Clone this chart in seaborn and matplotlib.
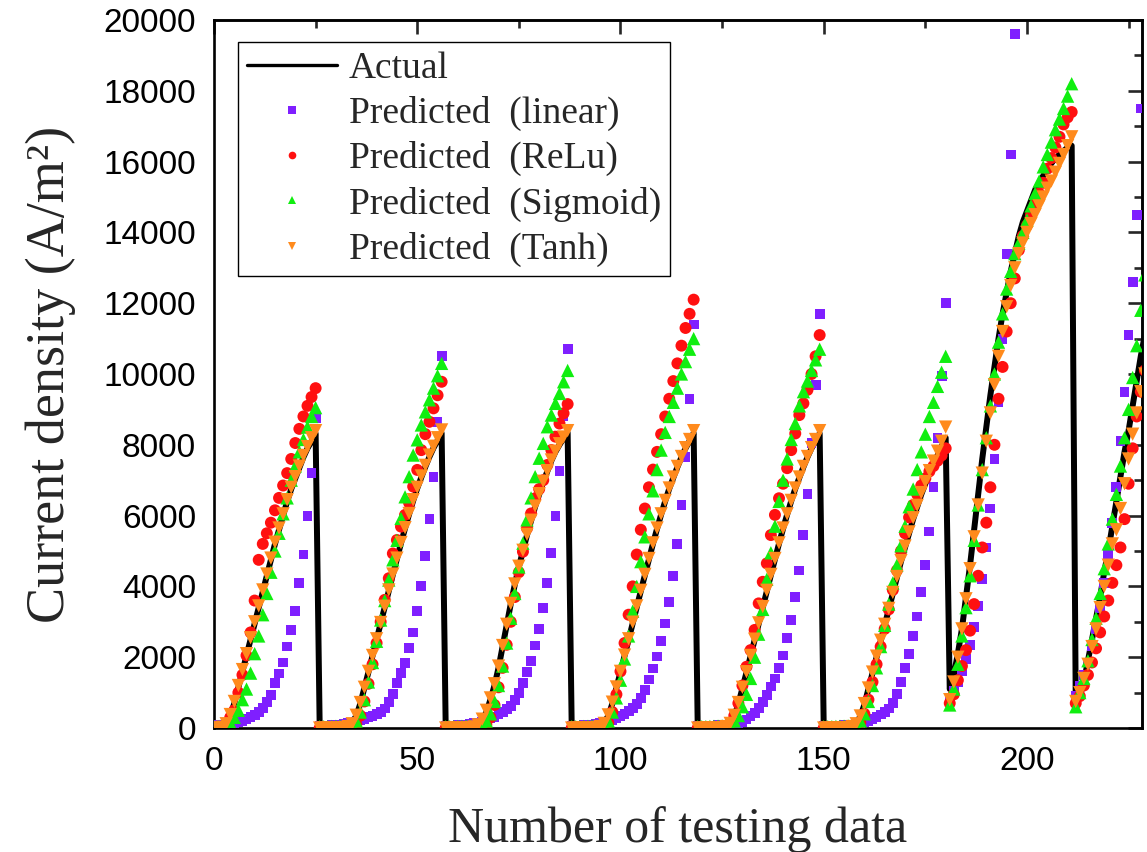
import numpy as np
import pandas as pd
import matplotlib
matplotlib.use("Agg")
import matplotlib.pyplot as plt
from matplotlib.lines import Line2D
from matplotlib.ticker import MultipleLocator
import seaborn as sns

nan = np.nan

# Current density (A/m^2) for each test sample; one row per ramp
actual = [
    50, 55, 60, 150, 330, 700, 1150, 1600, 2050, 2500, 2950, 3400, 3850, 4300, 4750, 5200, 5600, 6000, 6400, 6750, 7050, 7350, 7650, 7900, 8100, 8320,
    30, 30, 35, 40, 45, 55, 70, 100, 170, 340, 690, 1130, 1580, 2040, 2500, 2960, 3420, 3880, 4330, 4780, 5220, 5640, 6040, 6420, 6770, 7080, 7380, 7660, 7910, 8120, 8330,
    30, 30, 35, 35, 45, 55, 70, 100, 150, 200, 450, 800, 1200, 1700, 2300, 2900, 3500, 4050, 4550, 5000, 5450, 5850, 6250, 6600, 6950, 7250, 7550, 7800, 8000, 8180, 8340,
    30, 30, 35, 40, 45, 55, 70, 100, 170, 340, 690, 1130, 1580, 2040, 2500, 2960, 3420, 3870, 4320, 4770, 5210, 5630, 6030, 6410, 6760, 7070, 7370, 7650, 7900, 8110, 8330,
    30, 30, 35, 40, 45, 55, 70, 100, 170, 330, 680, 1120, 1570, 2030, 2490, 2950, 3410, 3870, 4320, 4770, 5210, 5630, 6030, 6410, 6760, 7070, 7370, 7650, 7900, 8110, 8320,
    30, 30, 35, 40, 45, 55, 70, 100, 160, 320, 660, 1100, 1550, 2000, 2450, 2900, 3350, 3800, 4250, 4700, 5100, 5500, 5900, 6250, 6600, 6900, 7200, 7450, 7700, 7950, 8200,
    1100, 1500, 2100, 2800, 3700, 4600, 5600, 6600, 7600, 8500, 9400, 10200, 11000, 11700, 12300, 12900, 13400, 13900, 14300, 14600, 14900, 15200, 15400, 15600, 15800, 15950, 16100, 16200, 16300, 16400, 16450,
    700, 900, 1300, 1900, 2500, 3100, 3700, 4400, 5000, 5700, 6400, 7100, 7800, 8400, 9100, 9800, 10500, 11100,
]

pred_linear = [
    80, 90, 100, 110, 130, 150, 170, 200, 250, 300, 370, 450, 560, 740, 930, 1260, 1540, 1850, 2300, 2770, 3300, 4100, 4900, 6000, 7200, 8750,
    60, 65, 70, 80, 90, 100, 115, 130, 150, 180, 210, 250, 300, 350, 400, 450, 550, 740, 970, 1260, 1550, 1830, 2250, 2700, 3300, 4000, 4850, 5900, 7100, 8650, 10500,
    60, 65, 70, 80, 90, 100, 115, 130, 150, 180, 220, 270, 320, 380, 450, 530, 620, 780, 1000, 1280, 1580, 1900, 2330, 2800, 3400, 4100, 4950, 6000, 7250, 8800, 10700,
    60, 65, 70, 80, 90, 100, 115, 130, 150, 180, 220, 270, 330, 400, 480, 570, 680, 850, 1080, 1370, 1680, 2020, 2450, 2950, 3550, 4300, 5200, 6300, 7650, 9300, 11400,
    50, 55, 60, 65, 70, 80, 90, 100, 115, 130, 150, 180, 240, 330, 420, 560, 740, 930, 1170, 1400, 1700, 2050, 2550, 3050, 3700, 4450, 5450, 6600, 8050, 9700, 11700,
    50, 55, 60, 65, 70, 80, 90, 100, 115, 130, 160, 200, 250, 310, 380, 460, 550, 700, 950, 1300, 1700, 2100, 2600, 3150, 3850, 4600, 5550, 6800, 8200, 9950, 12000,
    850, 1050, 1300, 1600, 1950, 2350, 2850, 3450, 4200, 5100, 6200, 7600, 9200, 11000, 13400, 16200, 19600, nan, nan, nan, nan, nan, nan, nan, nan, nan, nan, nan, nan, nan, nan,
    900, 1200, 1500, 1850, 2300, 2800, 3400, 4100, 4900, 5800, 6800, 8100, 9500, 11100, 12600, 14500, 17500, nan,
]

pred_relu = [
    0, 0, 20, 100, 300, 500, 1000, 1500, 2050, 2700, 3600, 4750, 5200, 5500, 5800, 6150, 6500, 6850, 7200, 7600, 8050, 8450, 8800, 9100, 9350, 9600,
    0, 0, 0, 0, 0, 0, 0, 0, 0, 100, 350, 750, 1250, 1800, 2400, 3000, 3620, 4230, 4930, 5310, 5690, 6020, 6360, 6820, 7290, 7850, 8300, 8650, 9030, 9400, 9780,
    0, 0, 0, 0, 0, 0, 0, 0, 0, 50, 100, 300, 650, 1150, 1700, 2350, 3000, 3700, 4400, 4980, 5640, 6060, 6490, 6750, 7000, 7430, 7850, 8230, 8600, 8890, 9150,
    0, 0, 0, 0, 0, 0, 0, 0, 30, 150, 450, 950, 1600, 2400, 3200, 4000, 4900, 5600, 6200, 6800, 7300, 7800, 8300, 8800, 9300, 9800, 10300, 10800, 11300, 11700, 12100,
    0, 0, 0, 0, 0, 0, 0, 0, 100, 350, 700, 1200, 1730, 2200, 2770, 3520, 4130, 4650, 5450, 6020, 6490, 6900, 7340, 7850, 8320, 8840, 9170, 9550, 10000, 10500, 11100,
    0, 0, 0, 0, 0, 0, 0, 0, 30, 150, 400, 800, 1300, 1800, 2300, 2800, 3350, 3900, 4450, 5000, 5500, 5950, 6300, 6600, 6850, 7050, 7250, 7400, 7550, 7700, 7900,
    700, 950, 1350, 1750, 2200, 2750, 3500, 4300, 5100, 5800, 6800, 8000, 9300, 10200, 11200, 12000, 12700, 13500, 13900, 14200, 14500, 14800, 15100, 15400, 15800, 16100, 16400, 16700, 17050, 17250, 17400,
    700, 900, 1200, 1500, 1850, 2250, 2700, 3150, 3600, 4100, 4600, 5100, 5900, 6900, 7900, 8800, 9500, 10100,
]

pred_sigmoid = [
    30, 40, 60, 100, 150, 300, 500, 800, 1100, 1550, 2100, 2600, 3200, 3800, 4400, 5000, 5500, 6050, 6500, 7000, 7400, 7800, 8150, 8500, 8800, 9050,
    40, 40, 40, 45, 50, 55, 60, 70, 90, 200, 450, 800, 1300, 1850, 2450, 3050, 3600, 4180, 4750, 5300, 5920, 6530, 7100, 7710, 8140, 8560, 8930, 9270, 9600, 9950, 10300,
    40, 40, 40, 45, 50, 55, 60, 70, 80, 100, 200, 400, 750, 1200, 1750, 2400, 3100, 3800, 4550, 5220, 5880, 6500, 7100, 7620, 8040, 8510, 8840, 9170, 9450, 9780, 10100,
    40, 40, 40, 45, 50, 55, 60, 70, 90, 200, 450, 850, 1350, 1950, 2600, 3300, 4000, 4700, 5400, 6050, 6700, 7300, 7850, 8350, 8800, 9200, 9600, 10000, 10350, 10700, 11000,
    40, 40, 40, 45, 50, 55, 60, 70, 90, 200, 350, 600, 950, 1400, 2000, 2650, 3350, 4200, 4950, 5700, 6400, 7000, 7600, 8150, 8600, 9100, 9500, 9800, 10100, 10400, 10700,
    40, 40, 40, 45, 50, 55, 60, 70, 90, 200, 400, 750, 1200, 1700, 2300, 2900, 3500, 4100, 4600, 5150, 5700, 6250, 6750, 7300, 7800, 8300, 8800, 9200, 9650, 10050, 10500,
    650, 1100, 1800, 2600, 3400, 4300, 5300, 6300, 7300, 8200, 9100, 10000, 10900, 11700, 12400, 12900, 13400, 13700, 14000, 14350, 14750, 15100, 15450, 15850, 16200, 16550, 16900, 17200, 17500, 17850, 18200,
    600, 1000, 1400, 1900, 2500, 3100, 3800, 4500, 5200, 5900, 6600, 7400, 8200, 9000, 9900, 10800, 11800, 12800,
]

pred_tanh = [
    0, 0, 20, 120, 380, 750, 1200, 1650, 2100, 2550, 3000, 3450, 3900, 4350, 4800, 5250, 5650, 6050, 6450, 6800, 7100, 7400, 7700, 7950, 8200, 8400,
    0, 0, 0, 0, 0, 0, 10, 40, 120, 360, 720, 1150, 1600, 2050, 2520, 2980, 3440, 3900, 4350, 4800, 5240, 5660, 6060, 6450, 6800, 7120, 7420, 7710, 7960, 8200, 8420,
    0, 0, 0, 0, 0, 0, 10, 30, 90, 250, 500, 850, 1250, 1750, 2330, 2930, 3520, 4070, 4570, 5020, 5470, 5870, 6270, 6620, 6970, 7270, 7570, 7820, 8030, 8220, 8400,
    0, 0, 0, 0, 0, 0, 10, 40, 130, 370, 730, 1160, 1600, 2060, 2520, 2990, 3450, 3890, 4340, 4790, 5230, 5650, 6050, 6430, 6780, 7090, 7390, 7670, 7920, 8150, 8400,
    0, 0, 0, 0, 0, 0, 10, 40, 130, 360, 720, 1150, 1590, 2050, 2510, 2970, 3430, 3890, 4340, 4790, 5230, 5650, 6050, 6430, 6780, 7090, 7390, 7670, 7920, 8150, 8400,
    0, 0, 0, 0, 0, 0, 10, 40, 120, 340, 690, 1130, 1580, 2030, 2480, 2930, 3380, 3830, 4280, 4730, 5140, 5540, 5940, 6290, 6650, 6960, 7270, 7540, 7820, 8100, 8500,
    800, 1300, 2000, 2800, 3650, 4500, 5400, 6300, 7200, 8100, 8900, 9700, 10500, 11200, 11900, 12500, 13000, 13400, 13700, 14000, 14250, 14500, 14750, 15000, 15250, 15450, 15700, 15950, 16200, 16450, 16700,
    750, 1000, 1400, 1800, 2300, 2800, 3400, 4000, 4600, 5200, 5600, 6200, 6900, 7600, 8300, 8900, 9500, 10000,
]

sample = np.arange(len(actual))

labels = ["Predicted  (linear)", "Predicted  (ReLu)", "Predicted  (Sigmoid)", "Predicted  (Tanh)"]
colors = ["#7F1FFF", "#FF1010", "#10EE10", "#FF8A1C"]
markers = ["s", "o", "^", "v"]
sizes = [50, 74, 92, 92]

df = pd.DataFrame({
    "sample": np.tile(sample, 4),
    "value": np.concatenate([pred_linear, pred_relu, pred_sigmoid, pred_tanh]),
    "model": np.repeat(labels, len(sample)),
})

sns.set_theme(style="white")
plt.rcParams["font.family"] = ["Liberation Sans", "DejaVu Sans"]

W, H = 1147, 852
fig = plt.figure(figsize=(W / 100, H / 100), dpi=100)
ax = fig.add_axes([214 / W, 1 - 728 / H, (1142 - 214) / W, (728 - 20) / H])

sns.lineplot(x=sample, y=actual, color="black", linewidth=4.3, ax=ax, zorder=2)
for lab, col, mk, sz in zip(labels, colors, markers, sizes):
    sub = df[df["model"] == lab]
    sns.scatterplot(data=sub, x="sample", y="value", color=col, marker=mk, s=sz,
                    linewidth=0, edgecolor="none", ax=ax, zorder=3, legend=False)

ax.set_xlim(0, 228.3)
ax.set_ylim(0, 20000)
ax.xaxis.set_major_locator(MultipleLocator(50))
ax.xaxis.set_minor_locator(MultipleLocator(25))
ax.yaxis.set_major_locator(MultipleLocator(2000))
ax.yaxis.set_minor_locator(MultipleLocator(1000))

for sp in ax.spines.values():
    sp.set_visible(True)
    sp.set_color("black")
    sp.set_linewidth(1.9)

ax.tick_params(axis="both", which="major", direction="out", length=10, width=1.9,
               labelsize=24, pad=3, colors="black", top=False, right=False)
ax.tick_params(axis="both", which="minor", direction="out", length=6, width=1.9,
               top=False, right=False)

# inward ticks on the opposite frame edges
top = ax.secondary_xaxis("top")
top.xaxis.set_major_locator(MultipleLocator(50))
top.xaxis.set_minor_locator(MultipleLocator(25))
top.tick_params(which="major", direction="in", length=10, width=1.9, labeltop=False)
top.tick_params(which="minor", direction="in", length=6, width=1.9)
top.spines["top"].set_linewidth(1.9)
right = ax.secondary_yaxis("right")
right.yaxis.set_major_locator(MultipleLocator(2000))
right.yaxis.set_minor_locator(MultipleLocator(1000))
right.tick_params(which="major", direction="in", length=10, width=1.9, labelright=False)
right.tick_params(which="minor", direction="in", length=6, width=1.9)
right.spines["right"].set_linewidth(1.9)

serif = ["Liberation Serif", "DejaVu Serif"]
ax.set_xlabel("Number of testing data", fontdict={"family": serif, "size": 36}, labelpad=21)
ax.set_ylabel("Current density (A/m²)", fontdict={"family": serif, "size": 39}, labelpad=20)

handles = [Line2D([], [], color="black", linewidth=2.4, label="Actual")]
for lab, col, mk in zip(labels, colors, markers):
    handles.append(Line2D([], [], linestyle="none", marker=mk, color=col,
                          markersize=5.5, markeredgewidth=0, label=lab))
leg = ax.legend(handles=handles, loc="upper left", bbox_to_anchor=(0.0259, 0.969),
                borderaxespad=0, prop={"family": serif, "size": 27},
                frameon=True, fancybox=False, edgecolor="black", framealpha=1,
                handlelength=2.4, handletextpad=0.3, labelspacing=0.27, borderpad=0.25)
leg.get_frame().set_linewidth(1.0)

fig.savefig("out.png", dpi=100)
